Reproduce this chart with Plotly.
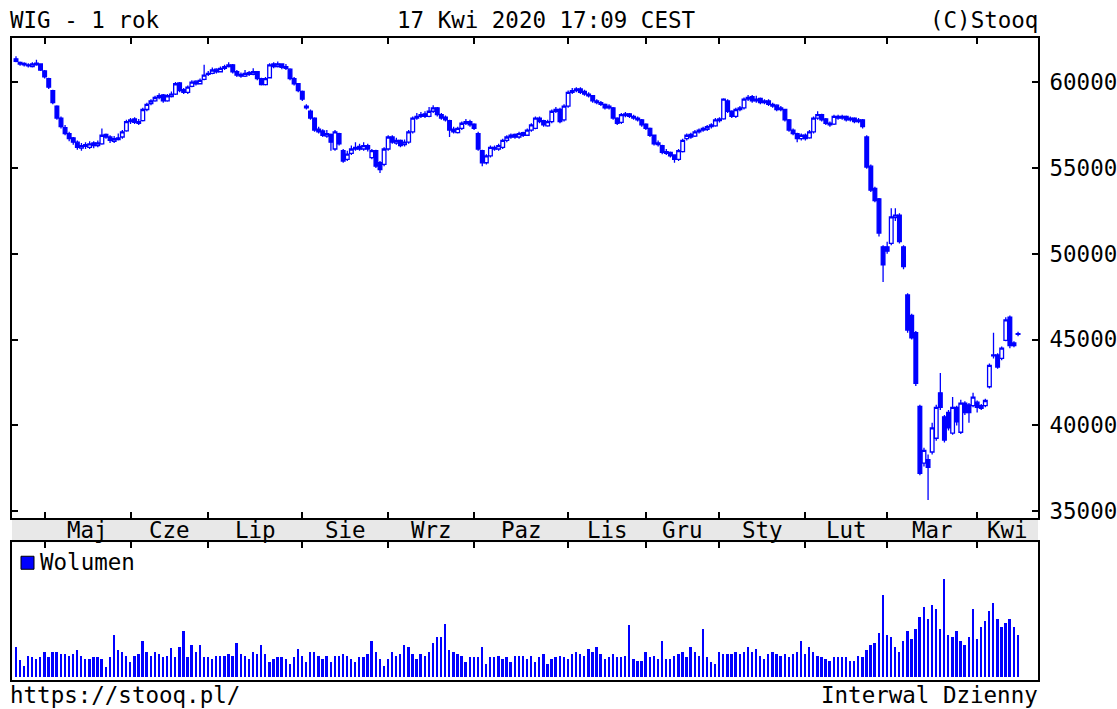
import plotly.graph_objects as go

# ---------------- data ----------------
month_labels = ["Maj", "Cze", "Lip", "Sie", "Wrz", "Paz", "Lis", "Gru", "Sty", "Lut", "Mar", "Kwi"]
month_start = [7, 28, 47, 70, 91, 112, 135, 154, 172, 193, 213, 235]   # session index of 1st day of month
price_ticks = [35000, 40000, 45000, 50000, 55000, 60000]

open_ = [
    61350, 61150, 61080, 61000, 60900, 61000, 61050, 60650, 60200, 59500,
    58600, 57900, 57350, 57000, 56750, 56500, 56150, 56350, 56200, 56450,
    56300, 56400, 56950, 56800, 56550, 56650, 56800, 57150, 57700, 57850,
    57600, 57750, 58400, 58750, 58900, 59100, 59250, 58900, 59150, 59300,
    59950, 59550, 59400, 59750, 60050, 59900, 60150, 60450, 60500, 60750,
    60600, 60800, 60900, 61000, 60600, 60450, 60350, 60550, 60450, 60600,
    60200, 59850, 60250, 61050, 60900, 61050, 60900, 60750, 60200, 59900,
    59450, 58600, 58300, 57900, 57250, 57150, 56850, 56950, 56100, 57000,
    56000, 55500, 55850, 56100, 56250, 56100, 56300, 55600, 56000, 55300,
    55200, 56100, 56800, 56450, 56600, 56350, 56500, 57100, 57900, 58000,
    58150, 58000, 58300, 58500, 58100, 57950, 57750, 57250, 57050, 57300,
    57600, 57700, 57550, 57000, 56000, 55300, 55700, 56200, 56100, 56200,
    56600, 56800, 56950, 56800, 57050, 56900, 57200, 57300, 57900, 57750,
    57450, 57700, 58300, 58400, 57800, 58600, 59400, 59500, 59600, 59450,
    59300, 59200, 58900, 58800, 58700, 58500, 58500, 57900, 57650, 58050,
    58150, 58000, 57900, 57800, 57550, 57300, 56900, 56450, 56300, 55950,
    55900, 55750, 55500, 55950, 56700, 56950, 56850, 57100, 57200, 57250,
    57400, 57450, 57850, 57850, 58900, 58300, 58000, 58400, 58500, 59000,
    59150, 58900, 59050, 58800, 58900, 58700, 58650, 58400, 58400, 57800,
    57200, 57000, 56700, 56900, 56750, 57100, 57900, 58100, 57850, 57600,
    57550, 58000, 57900, 58000, 57800, 57900, 57700, 57800, 56800, 55100,
    53800, 53200, 50400, 50400, 50600, 52100, 52250, 50400, 47600, 46400,
    45400, 41100, 37800, 38000, 38450, 39250, 41900, 40500, 40750, 39550,
    41050, 39600, 41300, 41200, 41150, 41350, 41150, 41150, 42250, 44050,
    44100, 43900, 44950, 46300, 44800, 45300,
]
high = [
    61500, 61200, 61150, 61100, 61150, 61300, 61100, 60700, 60250, 59550,
    58650, 58000, 57500, 57100, 56800, 56600, 56450, 56500, 56550, 56550,
    56600, 57300, 57000, 56900, 56850, 57000, 57200, 57800, 57900, 57950,
    57850, 58500, 58800, 59000, 59200, 59350, 59300, 59300, 59450, 60000,
    60000, 59650, 59800, 60100, 60100, 60200, 61000, 60650, 60850, 60800,
    60900, 61000, 61150, 61050, 60700, 60550, 60700, 60650, 60800, 60650,
    60250, 60300, 61100, 61150, 61200, 61100, 61050, 60800, 60300, 59950,
    59500, 58700, 58400, 57950, 57400, 57250, 57200, 57000, 57200, 57050,
    56100, 56000, 56300, 56500, 56400, 56500, 56400, 56100, 56050, 55400,
    56200, 56900, 56900, 56750, 56650, 56650, 57200, 58000, 58200, 58250,
    58300, 58550, 58650, 58550, 58200, 58050, 57800, 57400, 57400, 57700,
    57850, 57800, 57600, 57100, 56050, 55800, 56300, 56300, 56400, 56700,
    56900, 57000, 57000, 57100, 57100, 57300, 57600, 58000, 58000, 57800,
    57800, 58400, 58550, 58500, 58700, 59500, 59650, 59700, 59700, 59550,
    59400, 59250, 59000, 58900, 58750, 58700, 58550, 57950, 58200, 58250,
    58200, 58100, 58000, 57850, 57600, 57350, 56950, 56600, 56350, 56100,
    55950, 55800, 56100, 56700, 57000, 57050, 57200, 57300, 57400, 57500,
    57600, 57900, 57950, 59050, 59000, 58350, 58500, 58600, 59100, 59250,
    59250, 59200, 59100, 59000, 59000, 58800, 58700, 58600, 58450, 57850,
    57300, 57050, 57000, 57000, 57200, 58000, 58300, 58150, 57900, 57700,
    58100, 58100, 58100, 58050, 58000, 57950, 57900, 57850, 56900, 55200,
    53900, 53250, 50500, 50700, 52650, 52650, 52350, 50500, 47700, 46500,
    45500, 41200, 38700, 38300, 40150, 41200, 43050, 40600, 40900, 41650,
    41150, 41500, 41400, 41300, 41900, 41450, 41250, 41550, 43600, 45400,
    44200, 44600, 46300, 46400, 44900, 45450,
]
low = [
    61150, 60950, 60900, 60850, 60850, 60950, 60650, 60200, 59600, 58700,
    57800, 57300, 56900, 56550, 56350, 56050, 56000, 56100, 56100, 56150,
    56200, 56350, 56700, 56450, 56450, 56600, 56700, 57100, 57550, 57550,
    57500, 57700, 58300, 58650, 58850, 59000, 58800, 58850, 59100, 59250,
    59400, 59300, 59300, 59700, 59800, 59850, 60100, 60350, 60450, 60500,
    60550, 60700, 60850, 60500, 60300, 60250, 60300, 60350, 60400, 60100,
    59800, 59800, 60200, 60800, 60850, 60750, 60700, 60100, 59800, 59400,
    58900, 58400, 57800, 57100, 57000, 56800, 56750, 56000, 56000, 56300,
    55300, 55400, 55750, 56000, 56000, 56000, 55950, 55500, 55000, 54700,
    55100, 56000, 56400, 56350, 56200, 56250, 56400, 57000, 57800, 57900,
    57900, 57950, 58200, 58000, 57800, 57700, 56800, 57000, 57000, 57200,
    57500, 57400, 57200, 56000, 55100, 55200, 55600, 56000, 56000, 56100,
    56500, 56700, 56700, 56700, 56800, 56850, 57100, 57250, 57600, 57400,
    57400, 57600, 58200, 57600, 57700, 58500, 59300, 59400, 59300, 59200,
    59100, 58800, 58700, 58600, 58400, 58400, 57800, 57500, 57550, 57950,
    57900, 57800, 57700, 57400, 57200, 56800, 56300, 56250, 55800, 55750,
    55600, 55300, 55400, 55900, 56600, 56700, 56800, 57000, 57100, 57150,
    57300, 57400, 57650, 57800, 58200, 57900, 57900, 58300, 58400, 58900,
    58800, 58800, 58700, 58700, 58600, 58500, 58300, 58300, 57700, 57100,
    56900, 56500, 56600, 56600, 56700, 57000, 57800, 57700, 57500, 57400,
    57500, 57800, 57800, 57700, 57700, 57600, 57600, 57300, 54950, 53600,
    53000, 51000, 48350, 50000, 50500, 51900, 50600, 49100, 45400, 45000,
    42300, 37100, 37600, 35650, 38300, 39100, 40900, 39000, 39700, 39450,
    40000, 39500, 40600, 40150, 41050, 40750, 40900, 41050, 42150, 43900,
    43300, 43800, 44900, 44500, 44550, 45200,
]
close = [
    61200, 61050, 61000, 60950, 61050, 61100, 60700, 60300, 59700, 58800,
    57900, 57400, 57000, 56700, 56500, 56200, 56300, 56250, 56400, 56300,
    56450, 56900, 56800, 56600, 56700, 56750, 57100, 57700, 57800, 57650,
    57700, 58400, 58700, 58900, 59100, 59200, 58900, 59200, 59300, 59900,
    59500, 59400, 59700, 60000, 59900, 60100, 60400, 60500, 60700, 60600,
    60800, 60900, 61000, 60600, 60400, 60350, 60500, 60450, 60600, 60200,
    59850, 60200, 61000, 60900, 61050, 60850, 60800, 60200, 59900, 59500,
    59000, 58500, 57900, 57200, 57100, 56900, 57000, 56500, 57100, 56400,
    55400, 55800, 56100, 56200, 56100, 56300, 56100, 56000, 55100, 54900,
    56100, 56800, 56500, 56600, 56300, 56500, 57100, 57900, 58000, 58100,
    58000, 58300, 58500, 58100, 57900, 57800, 57200, 57100, 57300, 57600,
    57700, 57500, 57300, 56100, 55300, 55700, 56200, 56100, 56300, 56600,
    56800, 56900, 56800, 57000, 56900, 57200, 57500, 57900, 57700, 57500,
    57700, 58300, 58400, 57700, 58600, 59400, 59500, 59600, 59400, 59300,
    59200, 58900, 58800, 58700, 58500, 58600, 57900, 57600, 58100, 58150,
    58000, 57900, 57800, 57500, 57300, 56900, 56400, 56350, 55900, 55850,
    55700, 55500, 56000, 56600, 56900, 56800, 57100, 57200, 57300, 57400,
    57500, 57800, 57750, 59000, 58300, 58000, 58400, 58500, 59000, 59100,
    58900, 59000, 58800, 58900, 58700, 58600, 58400, 58500, 57800, 57200,
    57000, 56700, 56900, 56700, 57100, 57900, 58100, 57800, 57600, 57500,
    58000, 57900, 58000, 57800, 57900, 57700, 57800, 57400, 55050, 53700,
    53100, 51200, 49350, 50150, 52150, 52250, 50700, 49250, 45550, 45100,
    42450, 37200, 38550, 37550, 39850, 41050, 41050, 39150, 39850, 41050,
    40200, 41300, 40750, 40750, 41650, 41050, 41000, 41450, 43500, 44100,
    43400, 44500, 46150, 44650, 44650, 45350,
]
volume = [   # relative turnover (bar height units)
    30, 17, 11, 21, 20, 18, 20, 25, 20, 25,
    25, 23, 23, 21, 23, 27, 21, 18, 18, 20,
    20, 18, 10, 20, 42, 27, 25, 21, 15, 21,
    23, 36, 25, 21, 25, 23, 20, 21, 29, 20,
    30, 46, 20, 32, 25, 32, 20, 20, 18, 21,
    21, 21, 23, 21, 34, 23, 21, 18, 25, 23,
    32, 23, 15, 18, 20, 20, 18, 13, 20, 28,
    21, 15, 25, 25, 21, 18, 21, 15, 21, 21,
    23, 21, 18, 15, 20, 20, 23, 36, 25, 18,
    11, 18, 25, 21, 23, 32, 30, 23, 18, 23,
    21, 25, 34, 40, 40, 53, 27, 25, 23, 21,
    15, 20, 20, 20, 30, 13, 20, 20, 21, 18,
    20, 15, 21, 21, 21, 18, 21, 15, 20, 23,
    13, 18, 20, 21, 20, 18, 23, 25, 23, 21,
    28, 25, 30, 23, 18, 20, 23, 20, 20, 21,
    52, 18, 16, 16, 25, 20, 21, 18, 36, 18,
    18, 21, 23, 25, 20, 30, 25, 21, 48, 20,
    15, 13, 25, 23, 23, 23, 25, 23, 25, 30,
    25, 28, 21, 18, 23, 25, 23, 21, 23, 20,
    23, 25, 36, 23, 30, 25, 21, 20, 18, 16,
    20, 20, 20, 20, 16, 16, 21, 20, 27, 32,
    34, 44, 82, 42, 40, 30, 25, 36, 46, 38,
    48, 60, 70, 58, 72, 68, 48, 98, 42, 40,
    46, 36, 32, 40, 68, 38, 50, 56, 66, 74,
    58, 50, 54, 58, 50, 42,
]
session = list(range(len(close)))

# ---------------- geometry (pixels of the 1117x709 page) ----------------
W, H = 1117, 709
YSCALE = 1.009          # small vertical correction observed in the rendered page
FONT = "DejaVu Sans Mono"
FS = 22.5
BLUE = "#0000ff"


def pxx(p):
    return p / W


def pxy(p):
    return 1 - p * YSCALE / H


FRAME_L, FRAME_R = 12, 1038
PRICE_T, PRICE_B = 38, 518
VOL_T, VOL_B = 542, 680
FIRST_X, STEP = 16, 4.09
x_range = [(FRAME_L - FIRST_X) / STEP, (FRAME_R - FIRST_X) / STEP]
per_px = 5000 / 85.8
price_range = [60000 - (PRICE_B - 82) * per_px, 60000 + (82 - PRICE_T) * per_px]

fig = go.Figure()
fig.add_trace(go.Candlestick(
    x=session, open=open_, high=high, low=low, close=close,
    increasing=dict(line=dict(color=BLUE, width=1.3), fillcolor="#ffffff"),
    decreasing=dict(line=dict(color=BLUE, width=1.3), fillcolor=BLUE),
    whiskerwidth=0, showlegend=False, hoverinfo="skip",
    xaxis="x", yaxis="y",
))
fig.add_trace(go.Bar(
    x=session, y=volume, width=0.45, marker=dict(color=BLUE, line=dict(width=0)),
    showlegend=False, hoverinfo="skip", xaxis="x2", yaxis="y2",
))

axis_common = dict(showgrid=False, zeroline=False, showline=True, linecolor="black",
                   linewidth=2, tickcolor="black", tickwidth=1.5)

fig.update_layout(
    width=W, height=H,
    margin=dict(l=0, r=0, t=0, b=0),
    paper_bgcolor="white", plot_bgcolor="white",
    showlegend=False,
    font=dict(family=FONT, size=FS, color="black"),
    boxgap=0.1, boxgroupgap=0,
    xaxis=dict(domain=[pxx(FRAME_L), pxx(FRAME_R)], range=x_range, anchor="y",
               tickvals=month_start, showticklabels=False, ticks="inside", ticklen=6,
               mirror="ticks", rangeslider=dict(visible=False), **axis_common),
    yaxis=dict(domain=[pxy(PRICE_B), pxy(PRICE_T)], range=price_range, anchor="x",
               side="right", tickvals=price_ticks, ticktext=[str(v) for v in price_ticks],
               ticks="inside", ticklen=6, mirror="ticks", ticklabelstandoff=5,
               tickfont=dict(family=FONT, size=FS, color="black"), **axis_common),
    xaxis2=dict(domain=[pxx(FRAME_L), pxx(FRAME_R)], range=x_range, anchor="y2",
                side="top", tickvals=month_start, showticklabels=False, ticks="inside",
                ticklen=6, mirror=True, **axis_common),
    yaxis2=dict(domain=[pxy(VOL_B), pxy(VOL_T)], range=[-3, 135], anchor="x2",
                showticklabels=False, ticks="", mirror=True, **axis_common),
    bargap=0,
)

# month band between the panes
fig.add_shape(type="rect", xref="paper", yref="paper",
              x0=pxx(FRAME_L), x1=pxx(FRAME_R), y0=pxy(VOL_T), y1=pxy(PRICE_B),
              fillcolor="#e8e8e8", line=dict(width=0), layer="below")

bounds = month_start + [x_range[1]]
for k, lab in enumerate(month_labels):
    fig.add_annotation(x=(bounds[k] + bounds[k + 1]) / 2, xref="x", y=pxy(530), yref="paper",
                       text=lab, showarrow=False, xanchor="center", yanchor="middle",
                       font=dict(family=FONT, size=FS, color="black"))

# volume legend
fig.add_shape(type="rect", xref="paper", yref="paper",
              x0=pxx(21), x1=pxx(34), y0=pxy(569), y1=pxy(556),
              fillcolor=BLUE, line=dict(color="black", width=1))
fig.add_annotation(x=pxx(38), y=pxy(562), xref="paper", yref="paper", text="Wolumen",
                   showarrow=False, xanchor="left", yanchor="middle",
                   font=dict(family=FONT, size=FS, color="black"))

texts = [
    ("WIG - 1 rok", 8, 20, "left"),
    ("17 Kwi 2020 17:09 CEST", 546, 20, "center"),
    ("(C)Stooq", 1040, 20, "right"),
    ("https://stooq.pl/", 8, 695, "left"),
    ("Interwal Dzienny", 1040, 695, "right"),
]
for t, x, y, anc in texts:
    fig.add_annotation(x=pxx(x), y=pxy(y), xref="paper", yref="paper", text=t,
                       showarrow=False, xanchor=anc, yanchor="middle",
                       font=dict(family=FONT, size=FS, color="black"))

fig.write_html("out.html", config={"displayModeBar": False},
               post_script="document.body.style.margin='0';document.body.style.overflow='hidden';")
